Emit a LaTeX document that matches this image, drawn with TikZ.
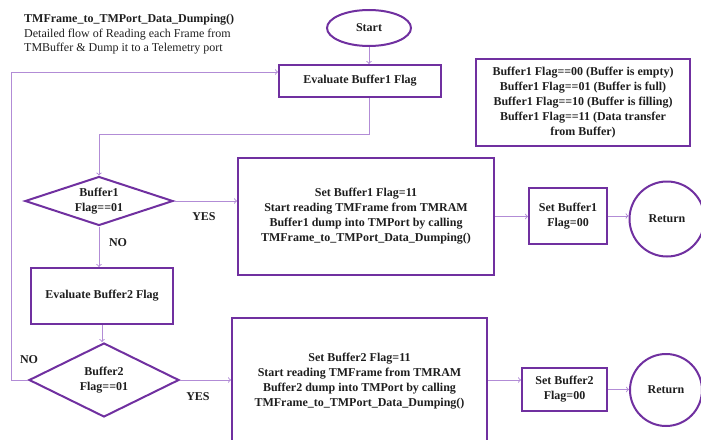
\documentclass[tikz,border=0pt]{standalone}
\usepackage{fontspec}
\setmainfont{Liberation Serif}
\usetikzlibrary{arrows,shapes.geometric}
\definecolor{boxpurple}{RGB}{112,48,160}
\definecolor{linepurple}{RGB}{178,140,214}
\definecolor{txtgray}{RGB}{30,30,30}
\begin{document}
\begin{tikzpicture}[x=1pt,y=-1pt]
\tikzstyle{every node}=[text=txtgray, align=center, inner sep=0pt, font=\bfseries\fontsize{12}{15}\selectfont]
\tikzstyle{box}=[draw=boxpurple, line width=2pt, rectangle]
\tikzstyle{decision}=[draw=boxpurple, line width=2pt, diamond, aspect=3]
\tikzstyle{terminal}=[draw=boxpurple, line width=2pt]
\tikzstyle{flow}=[draw=linepurple, line width=1pt, ->, >=to]
\clip (0,0) rectangle (701,439);
\draw (24,14) node (title) [anchor=north west, align=left, font=\fontsize{12}{14.5}\selectfont] {\textbf{TMFrame\_to\_TMPort\_Data\_Dumping()}\\Detailed flow of Reading each Frame from\\TMBuffer \& Dump it to a Telemetry port};
\draw (369,28) node (start) [terminal, ellipse, minimum width=84pt, minimum height=36pt] {Start};
\draw (360,81) node (eval1) [box, minimum width=162pt, minimum height=32pt] {Evaluate Buffer1 Flag};
\draw (583,102.5) node (legend) [box, minimum width=214pt, minimum height=87pt] {Buffer1 Flag==00 (Buffer is empty)\\Buffer1 Flag==01 (Buffer is full)\\Buffer1 Flag==10 (Buffer is filling)\\Buffer1 Flag==11 (Data transfer\\from Buffer)};
\draw (99,201) node (dec1) [decision, minimum width=148pt, minimum height=49pt] {Buffer1\\Flag==01};
\draw (366,216.5) node (set1) [box, minimum width=256pt, minimum height=117pt] {Set Buffer1 Flag=11\\Start reading TMFrame from TMRAM\\Buffer1 dump into TMPort by calling\\TMFrame\_to\_TMPort\_Data\_Dumping()};
\draw (568,216) node (done1) [box, minimum width=78pt, minimum height=56pt] {Set Buffer1\\Flag=00};
\draw (667,219) node (ret1) [terminal, circle, minimum size=75pt] {Return};
\draw (102,296) node (eval2) [box, minimum width=142pt, minimum height=56pt] {Evaluate Buffer2 Flag};
\draw (104,380) node (dec2) [decision, minimum width=150pt, minimum height=74pt] {Buffer2\\Flag==01};
\draw (359.5,381) node (set2) [box, minimum width=255pt, minimum height=126pt] {Set Buffer2 Flag=11\\Start reading TMFrame from TMRAM\\Buffer2 dump into TMPort by calling\\TMFrame\_to\_TMPort\_Data\_Dumping()};
\draw (564.5,389.5) node (done2) [box, minimum width=85pt, minimum height=43pt] {Set Buffer2\\Flag=00};
\draw (666,390) node (ret2) [terminal, circle, minimum size=72pt] {Return};
\draw (204,217) node (yes1) {YES};
\draw (118,243) node (no1) {NO};
\draw (29,360) node (no2) {NO};
\draw (198,397) node (yes2) {YES};
\draw[flow] (start) -- (start |- eval1.north);
\draw[flow] (eval1.south -| start) -- ++(0,36) -| (dec1.north);
\draw[flow] (dec1.east) -- (dec1.east -| set1.west);
\draw[flow] (set1.east) -- (set1.east -| done1.west);
\draw[flow] (done1.east) -- (done1.east -| ret1.west);
\draw[flow] (dec1.south) -- (dec1.south |- eval2.north);
\draw[flow] (eval2.south) -- (eval2.south |- dec2.north);
\draw[flow] (dec2.west) -- ++(-17,0) |- ([yshift=9pt]eval1.west);
\draw[flow] (dec2.east) -- (dec2.east -| set2.west);
\draw[flow] (set2.east |- dec2) -- (dec2 -| done2.west);
\draw[flow] (done2.east) -- (done2.east -| ret2.west);
\end{tikzpicture}
\end{document}
